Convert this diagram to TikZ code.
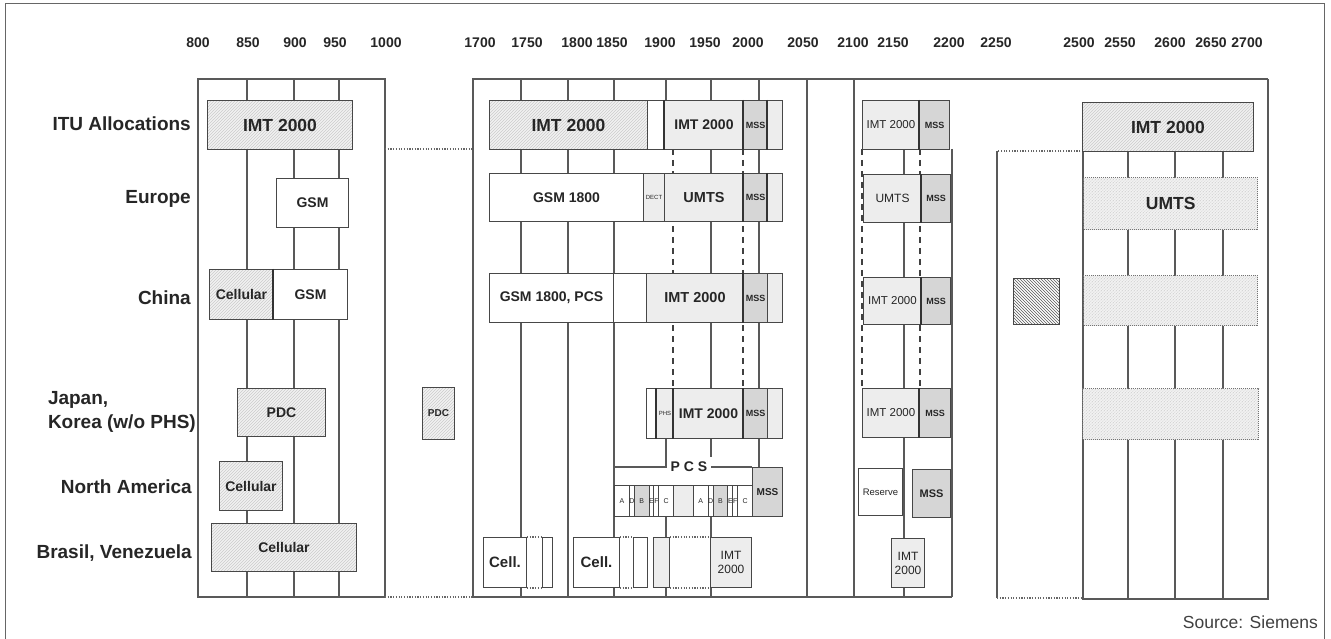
\documentclass[tikz,border=0pt]{standalone}
\usepackage{fontspec}
\setmainfont{Liberation Sans}
\usetikzlibrary{patterns}
\newcommand\fsz[1]{\fontsize{#1}{#1}\selectfont}
\newcommand\bx[7]{\pgfmathsetmacro\bxw{#5-#3}\pgfmathsetmacro\bxh{#6-#4}%
  \node[box,#1,minimum width=\bxw pt,minimum height=\bxh pt,anchor=north west] (#2) at (#3,#4) {#7};}
\begin{document}
\begin{tikzpicture}[x=1pt,y=-1pt,
  box/.style={draw=black!72, line width=1pt, inner sep=0pt, text=black!85, font=\bfseries\fsz{14}, align=center},
  hat/.style={preaction={fill=gray!10}, pattern=north east lines, pattern color=gray!40},
  lg/.style={fill=gray!14},
  wt/.style={fill=white},
  dk/.style={fill=gray!32},
  dotb/.style={draw=black!55, line width=1.3pt, dash pattern=on 1pt off 1pt},
  grid/.style={draw=black!65, line width=1.1pt},
  dsh/.style={draw=black!75, line width=1.6pt, dash pattern=on 6pt off 5pt},
  thk/.style={draw=black!80, line width=2pt},
  dotl/.style={draw=black!60, line width=1.2pt, dash pattern=on 1.2pt off 1.5pt},
  lab/.style={font=\bfseries\fsz{19}, text=black!85, anchor=east, inner sep=0pt},
  ax/.style={font=\bfseries\fsz{14}, text=black!85, inner sep=0pt}]
\useasboundingbox (0,0) rectangle (1331,639);
\fill[white] (0,0) rectangle (1331,639);
% outer frame
\draw[black!60, line width=1pt] (5,645) -- (5,4) -- (1324,4) -- (1324,645);

% axis labels
\foreach \v/\x in {800/198,850/248,900/295,950/335,1000/386,1700/480,1750/527,1800/577,1850/612,1900/660,1950/705,2000/748,2050/803,2100/853,2150/893,2200/949,2250/996,2500/1079,2550/1120,2600/1170,2650/1211,2700/1247}
  \node[ax] (ax\v) at (\x,43) {\v};

% row labels
\node[lab] (lITU) at (191,124) {ITU Allocations};
\node[lab] (lEU) at (191,199) {Europe};
\node[lab] (lCN) at (191,298) {China};
\node[lab, align=left, font=\bfseries\fontsize{19}{24}\selectfont] (lJP) at (196,412) {Japan,\\Korea (w/o PHS)};
\node[lab] (lNA) at (192,487) {North America};
\node[lab] (lBR) at (192,553) {Brasil, Venezuela};

% ---------- grid: left panel
\draw[grid] (198,79) rectangle (385,597);
\foreach \x in {247,294,339} \draw[grid] (\x,79) -- (\x,597);
\draw[dotl] (385,149) -- (473,149);
\draw[dotl] (385,597) -- (473,597);

% ---------- grid: middle panels
\draw[grid] (1268,79) -- (473,79) -- (473,597) -- (952,597);
\foreach \x in {521,568,614,807,854} \draw[grid] (\x,79) -- (\x,597);
\draw[grid] (666,79) -- (666,100);
\draw[grid] (666,516) -- (666,597);
\draw[grid] (711,79) -- (711,457);
\draw[grid] (711,516) -- (711,597);
\draw[grid] (759,79) -- (759,467);
\draw[grid] (904,149) -- (904,597);
\draw[grid] (952,149) -- (952,597);

% ---------- grid: right panel
\draw[dotl] (1083,151) -- (997,151);
\draw[grid] (997,151) -- (997,598);
\draw[dotl] (997,598) -- (1083,598);
\draw[grid] (1083,151) -- (1083,599) -- (1268,599) -- (1268,79);
\foreach \x in {1128,1175,1223} \draw[grid] (\x,151) -- (\x,599);

% ---------- dashed IMT-2000 band markers (behind boxes)
\draw[dsh] (673,149) -- (673,388);
\draw[dsh] (743,149) -- (743,388);
\draw[dsh] (862,149) -- (862,388);
\draw[dsh] (920,149) -- (920,388);

% ================= left panel boxes
\bx{hat, font=\bfseries\fsz{17.5}}{a1}{207}{100}{352}{149}{IMT 2000}
\bx{wt}{a2}{276}{178}{348}{227}{GSM}
\bx{hat}{a3}{209}{269}{273}{319}{Cellular}
\bx{wt}{a4}{273}{269}{347}{319}{GSM}
\draw[thk] (a4.north west) -- (a4.south west);
\bx{hat}{a5}{237}{388}{325}{436}{PDC}
\bx{hat, font=\bfseries\fsz{10}}{a6}{422}{387}{454}{439}{PDC}
\bx{hat}{a7}{219}{461}{282}{510}{Cellular}
\bx{hat}{a8}{211}{523}{356}{571}{Cellular}

% ================= middle panel
% ITU
\bx{hat, font=\bfseries\fsz{17.5}}{m1}{489}{100}{647}{149}{IMT 2000}
\bx{wt}{m2}{647}{100}{664}{149}{}
\bx{lg}{m3}{664}{100}{743}{149}{IMT 2000}
\bx{dk, font=\bfseries\fsz{9}}{m4}{743}{100}{767}{149}{MSS}
\bx{lg}{m5}{767}{100}{782}{149}{}
\draw[thk] (m3.north west) -- (m3.south west);
\draw[thk] (m4.north west) -- (m4.south west);
\draw[thk] (m5.north west) -- (m5.south west);
% Europe
\bx{wt}{e1}{489}{173}{643}{221}{GSM 1800}
\bx{lg, font=\fsz{6}}{e2}{643}{173}{664}{221}{DECT}
\bx{lg, font=\bfseries\fsz{14.5}}{e3}{664}{173}{743}{221}{UMTS}
\bx{dk, font=\bfseries\fsz{9}}{e4}{743}{173}{767}{221}{MSS}
\bx{lg}{e5}{767}{173}{782}{221}{}
\draw[thk] (e4.north west) -- (e4.south west);
\draw[thk] (e5.north west) -- (e5.south west);
% China
\bx{wt}{c1}{489}{273}{613}{322}{GSM 1800, PCS}
\bx{wt}{c2}{613}{273}{646}{322}{}
\bx{lg, font=\bfseries\fsz{14.5}}{c3}{646}{273}{743}{322}{IMT 2000}
\bx{dk, font=\bfseries\fsz{9}}{c4}{743}{273}{767}{322}{MSS}
\bx{lg}{c5}{767}{273}{782}{322}{}
\draw[thk] (c4.north west) -- (c4.south west);
% Japan
\bx{wt}{j1}{646}{388}{656}{438}{}
\bx{lg, font=\fsz{6}}{j2}{656}{388}{673}{438}{PHS}
\bx{lg}{j3}{673}{388}{743}{438}{IMT 2000}
\bx{dk, font=\bfseries\fsz{9}}{j4}{743}{388}{767}{438}{MSS}
\bx{lg}{j5}{767}{388}{782}{438}{}
\draw[thk] (j2.north west) -- (j2.south west);
\draw[thk] (j3.north west) -- (j3.south west);
\draw[thk] (j4.north west) -- (j4.south west);
% North America / PCS
\bx{dk, font=\bfseries\fsz{10}}{nmss}{752}{467}{782}{516}{MSS}
\foreach \a/\b/\c/\t [count=\i] in {1850/1865/white/A,1865/1870/white/D,1870/1885/gray!32/B,1885/1890/white/E,1890/1895/white/F,1895/1910/white/C,1910/1930/gray!14/{},1930/1945/white/A,1945/1950/white/D,1950/1965/gray!32/B,1965/1970/white/E,1970/1975/white/F,1975/1990/white/C}{
  \pgfmathsetmacro\xa{614+(\a-1850)*0.986}\pgfmathsetmacro\xb{614+(\b-1850)*0.986}
  \bx{fill=\c, font=\fsz{7}}{pb\i}{\xa}{485}{\xb}{516}{\t}
}
\node[font=\bfseries\fsz{14}, text=black!85, inner xsep=4pt, inner ysep=0pt] (pcs) at (689,467) {P C S};
\coordinate (pcsl) at (666,467);
\draw[grid] (j1.south east -| pcsl) -- (pcsl) -- (pb1.north west |- pcsl);
\draw[grid] (pcs.east) -- (nmss.north west);
% Brasil
\bx{wt, font=\bfseries\fsz{15}}{b1}{483}{537}{526}{587}{Cell.}
\bx{wt}{b2}{542}{537}{552}{587}{}
\bx{wt, font=\bfseries\fsz{15}}{b3}{573}{537}{619}{587}{Cell.}
\bx{wt}{b4}{633}{537}{647}{587}{}
\bx{lg}{b5}{653}{537}{669}{587}{}
\bx{lg, font=\fontsize{12}{14}\selectfont}{b6}{710}{537}{751}{587}{IMT\\2000}
\draw[dotl] (b1.north east) -- (b2.north west);
\draw[dotl] (b1.south east) -- (b2.south west);
\draw[dotl] (b3.north east) -- (b4.north west);
\draw[dotl] (b3.south east) -- (b4.south west);
\draw[dotl] (b5.north east) -- (b6.north west);
\draw[dotl] (b5.south east) -- (b6.south west);

% ================= 2100-2200 panel
\bx{lg, font=\fsz{11.5}}{r1}{862}{100}{919}{149}{IMT 2000}
\bx{dk, font=\bfseries\fsz{9}}{r2}{919}{100}{949}{149}{MSS}
\bx{lg, font=\fsz{12}}{r3}{863}{174}{921}{222}{UMTS}
\bx{dk, font=\bfseries\fsz{9}}{r4}{921}{174}{950}{222}{MSS}
\bx{lg, font=\fsz{11.5}}{r5}{863}{277}{921}{324}{IMT 2000}
\bx{dk, font=\bfseries\fsz{9}}{r6}{921}{277}{950}{324}{MSS}
\bx{lg, font=\fsz{11.5}}{r7}{862}{388}{919}{437}{IMT 2000}
\bx{dk, font=\bfseries\fsz{9}}{r8}{919}{388}{950}{437}{MSS}
\bx{wt, font=\fsz{9.5}}{r9}{858}{468}{902}{515}{Reserve}
\bx{dk, font=\bfseries\fsz{11}}{r10}{912}{469}{950}{517}{MSS}
\bx{lg, font=\fontsize{12}{14}\selectfont}{r11}{891}{538}{924}{587}{IMT\\2000}
\foreach \n in {r2,r4,r6,r8} \draw[thk] (\n.north west) -- (\n.south west);

% ================= right panel
\bx{hat, font=\bfseries\fsz{17.5}}{s1}{1082}{102}{1253}{151}{IMT 2000}
\bx{hat, dotb, font=\bfseries\fsz{17.5}}{s2}{1083}{177}{1257}{229}{UMTS}
\bx{hat, dotb}{s3}{1083}{275}{1257}{325}{}
\bx{hat, dotb}{s4}{1082}{388}{1258}{439}{}
\bx{preaction={fill=white}, pattern=north west lines, pattern color=black!65}{s5}{1013}{278}{1059}{324}{}

% source
\node[font=\fsz{17.5}, text=black!75, anchor=east, inner sep=0pt] (src) at (1318,622) {Source: Siemens};
\end{tikzpicture}
\end{document}
